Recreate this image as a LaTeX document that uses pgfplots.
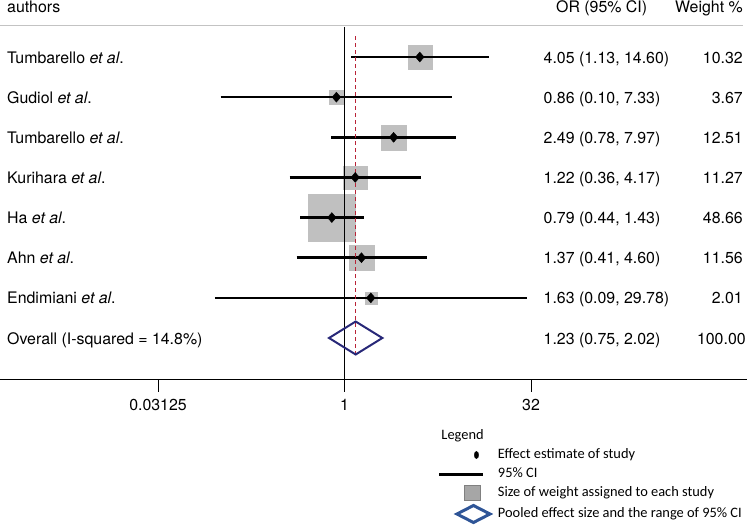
\documentclass[border=0pt]{standalone}
\usepackage{pgfplots}
\pgfplotsset{compat=1.18}
\usepackage{pgfplotstable}
\usepackage{fontspec}
\setmainfont{TeX Gyre Heros}
\newfontfamily\legfont{Carlito}
\definecolor{sqgray}{RGB}{192,192,192}
\definecolor{pooled}{RGB}{40,40,120}
\definecolor{refred}{RGB}{185,35,55}
\definecolor{legblue}{RGB}{47,85,151}
\definecolor{leggray}{RGB}{166,166,166}
\definecolor{rulegray}{RGB}{195,195,195}
\newcommand\mfs{\fontsize{15.9bp}{19bp}\selectfont}
\newcommand\legfs{\legfont\fontsize{14.4bp}{17bp}\selectfont}
\newcommand\legbox{\path[draw=none,fill=none] (canvas cs:x=0bp,y=-8bp) rectangle (canvas cs:x=50bp,y=8bp);}

\pgfplotstableread{
y or lo hi w
7 4.05 1.13 14.60 10.32
6 0.86 0.10 7.33 3.67
5 2.49 0.78 7.97 12.51
4 1.22 0.36 4.17 11.27
3 0.79 0.44 1.43 48.66
2 1.37 0.41 4.60 11.56
1 1.63 0.09 29.78 2.01
}\studies

\newcommand\rowtext[4]{%
 \node[anchor=base west,font=\mfs,inner sep=0pt] at ({rel axis cs:0.00937,0}|-{axis cs:1,#1}) {#2};
 \node[anchor=base west,font=\mfs,inner sep=0pt] at ({rel axis cs:0.7276,0}|-{axis cs:1,#1}) {#3};
 \node[anchor=base east,font=\mfs,inner sep=0pt] at ({rel axis cs:0.9946,0}|-{axis cs:1,#1}) {#4};}

\begin{document}
\begin{tikzpicture}
\begin{axis}[
  name=main,
  scale only axis, width=747bp, height=379bp,
  xmode=log, log basis x=2,
  xmin=0.001658, xmax=1771,
  ymin=-1.0214, ymax=8.4205,
  axis x line*=bottom, axis y line=none,
  xtick={0.03125,1,32}, xticklabels={0.03125,1,32},
  minor xtick={},
  tick align=outside, major tick length=12.5bp,
  xtick style={black, line width=0.9bp},
  x axis line style={black, line width=1bp},
  xticklabel style={font=\mfs, inner sep=0pt},
  xticklabel shift=8bp,
  ytick=\empty,
  clip=false, clip mode=individual,
  legend style={at={(axis description cs:0.5863,0)}, anchor=north west, yshift=-49bp,
    draw=none, fill=none, inner sep=0pt, outer sep=0pt, row sep=3bp, column sep=6.5bp,
    font=\legfs, nodes={inner sep=0pt, anchor=west, text height=9bp, text depth=3bp}},
  legend cell align=left,
]
% weight squares (side of the box drawn for each study)
\addplot[forget plot, sqgray, only marks, mark=square*, mark size=12, mark options={draw=sqgray, fill=sqgray, line width=0.1pt}] coordinates {(4.05,7)};
\addplot[forget plot, sqgray, only marks, mark=square*, mark size=7, mark options={draw=sqgray, fill=sqgray, line width=0.1pt}] coordinates {(0.86,6)};
\addplot[forget plot, sqgray, only marks, mark=square*, mark size=12.5, mark options={draw=sqgray, fill=sqgray, line width=0.1pt}] coordinates {(2.49,5)};
\addplot[forget plot, sqgray, only marks, mark=square*, mark size=11.8, mark options={draw=sqgray, fill=sqgray, line width=0.1pt}] coordinates {(1.22,4)};
\addplot[forget plot, sqgray, only marks, mark=square*, mark size=23.5, mark options={draw=sqgray, fill=sqgray, line width=0.1pt}] coordinates {(0.79,3)};
\addplot[forget plot, sqgray, only marks, mark=square*, mark size=12.5, mark options={draw=sqgray, fill=sqgray, line width=0.1pt}] coordinates {(1.37,2)};
\addplot[forget plot, sqgray, only marks, mark=square*, mark size=6, mark options={draw=sqgray, fill=sqgray, line width=0.1pt}] coordinates {(1.63,1)};
% confidence intervals
\addplot[forget plot, black, line width=2.6bp, unbounded coords=jump] table {
x y
1.13 7
14.60 7
nan nan
0.10 6
7.33 6
nan nan
0.78 5
7.97 5
nan nan
0.36 4
4.17 4
nan nan
0.44 3
1.43 3
nan nan
0.41 2
4.60 2
nan nan
0.09 1
29.78 1
};
% top rule
\addplot[forget plot, rulegray, line width=1bp] coordinates {(0.001658,7.773) (1629,7.773)};
% line of no effect
\addplot[forget plot, black, line width=1bp] coordinates {(1,7.748) (1,-1.0214)};
% pooled estimate line
\addplot[forget plot, refred, line width=1.4bp, dash pattern=on 4bp off 3bp] coordinates {(1.23,7.52) (1.23,-0.473)};
% point estimates
\addplot[forget plot, only marks, mark=diamond*, mark size=5, mark options={xscale=1.15}, black] table[x=or, y=y] {\studies};
% pooled diamond
\addplot[forget plot, pooled, line width=2bp, line join=miter] coordinates {(0.75,0) (1.23,0.411) (2.02,0) (1.23,-0.411)} -- cycle;

% texts
\node[anchor=base west,font=\mfs,inner sep=0pt] at ({rel axis cs:0.00937,0}|-{axis cs:1,8.1}) {authors};
\node[anchor=base west,font=\mfs,inner sep=0pt] at ({rel axis cs:0.7443,0}|-{axis cs:1,8.1}) {OR (95\% CI)};
\node[anchor=base east,font=\mfs,inner sep=0pt] at ({rel axis cs:0.9946,0}|-{axis cs:1,8.1}) {Weight \%};
\rowtext{6.85}{Tumbarello \textit{et al}.}{4.05 (1.13, 14.60)}{10.32}
\rowtext{5.85}{Gudiol \textit{et al}.}{0.86 (0.10, 7.33)}{3.67}
\rowtext{4.85}{Tumbarello \textit{et al}.}{2.49 (0.78, 7.97)}{12.51}
\rowtext{3.85}{Kurihara \textit{et al}.}{1.22 (0.36, 4.17)}{11.27}
\rowtext{2.85}{Ha \textit{et al}.}{0.79 (0.44, 1.43)}{48.66}
\rowtext{1.85}{Ahn \textit{et al}.}{1.37 (0.41, 4.60)}{11.56}
\rowtext{0.85}{Endimiani \textit{et al}.}{1.63 (0.09, 29.78)}{2.01}
\node[anchor=base west,font=\mfs,inner sep=0pt] at ({rel axis cs:0.00937,0}|-{axis cs:1,-0.15}) {Overall (I-squared = 14.8\%)};
\node[anchor=base west,font=\mfs,inner sep=0pt] at ({rel axis cs:0.7276,0}|-{axis cs:1,-0.15}) {1.23 (0.75, 2.02)};
\node[anchor=base east,font=\mfs,inner sep=0pt] at ({rel axis cs:0.9985,0}|-{axis cs:1,-0.15}) {100.00};

% legend
\addlegendimage{legend image code/.code={\legbox \node[anchor=west,inner sep=0pt,font=\legfs] at (canvas cs:x=2bp,y=0bp) {Legend};}}
\addlegendentry{}
\addlegendimage{legend image code/.code={\legbox \fill[black] (canvas cs:x=37bp,y=0bp) ellipse [x radius=2.2bp, y radius=3.6bp];}}
\addlegendentry{Effect estimate of study}
\addlegendimage{legend image code/.code={\legbox \draw[black, line width=3bp] (canvas cs:x=0bp,y=0bp) -- (canvas cs:x=44bp,y=0bp);}}
\addlegendentry{95\% CI}
\addlegendimage{legend image code/.code={\legbox \draw[fill=leggray, draw=gray, line width=1bp] (canvas cs:x=25bp,y=-7.5bp) rectangle (canvas cs:x=41bp,y=7.5bp);}}
\addlegendentry{Size of weight assigned to each study}
\addlegendimage{legend image code/.code={\legbox \draw[legblue, line width=3bp, line join=miter] (canvas cs:x=17.5bp,y=0bp) -- (canvas cs:x=34bp,y=8.5bp) -- (canvas cs:x=50.5bp,y=0bp) -- (canvas cs:x=34bp,y=-8.5bp) -- cycle;}}
\addlegendentry{Pooled effect size and the range of 95\% CI}
\end{axis}
\pgfresetboundingbox
\path[use as bounding box] (main.south west) ++(0,-149bp) rectangle (main.north east);
\end{tikzpicture}
\end{document}
